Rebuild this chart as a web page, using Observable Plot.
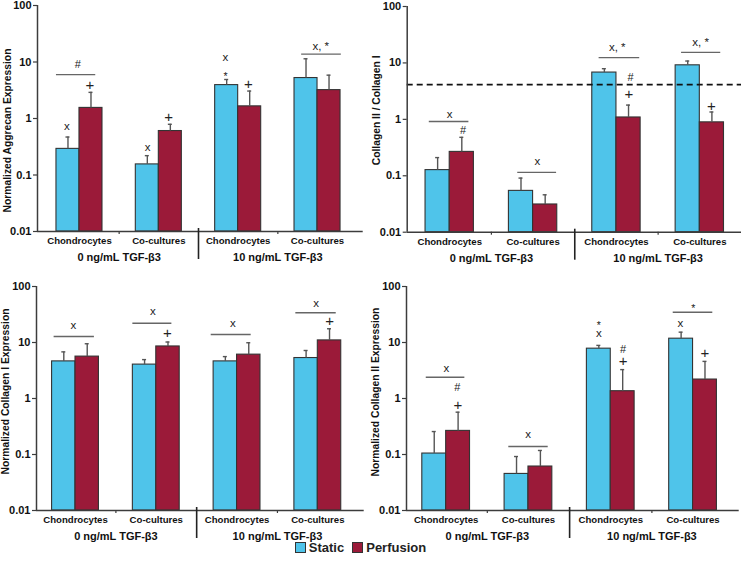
<!DOCTYPE html>
<html><head><meta charset="utf-8">
<script src="https://cdn.jsdelivr.net/npm/d3@7"></script>
<script src="https://cdn.jsdelivr.net/npm/@observablehq/plot@0.6"></script>
<style>
body{margin:0;background:#fff;font-family:"Liberation Sans",Arial,sans-serif;}
#wrap{position:relative;width:741px;height:568px;overflow:hidden;background:#fff;}
.panel{position:absolute;}
#legend{position:absolute;left:-10px;width:741px;top:540px;text-align:center;font:bold 13px "Liberation Sans",Arial,sans-serif;color:#222;}
#legend .item{display:inline-flex;align-items:center;margin:0 4px;}
#legend .sw{display:inline-block;width:9px;height:9px;border:1px solid #333;margin-right:3px;}
</style></head><body><div id="wrap"></div>
<script>
// ---------- data ----------
const categories = ["Chondrocytes", "Co-cultures", "Chondrocytes", "Co-cultures"];
const groups = ["0 ng/mL TGF-β3", "10 ng/mL TGF-β3"];
const seriesNames = ["Static", "Perfusion"];
const yTicks = [0.01, 0.1, 1, 10, 100];
const yTickLabels = ["0.01", "0.1", "1", "10", "100"];

// Panel A: Normalized Aggrecan Expression
const aggStatic = [0.29, 0.154, 3.9, 5.2];
const aggStaticErr = [0.47, 0.22, 4.9, 11.4];
const aggPerf = [1.54, 0.60, 1.64, 3.18];
const aggPerfErr = [2.9, 0.79, 3.06, 5.85];
const aggNotes = [
  {t: "#", x: 0.48, y: 9.1}, {t: "+", x: 0.63, y: 3.9}, {t: "x", x: 0.34, y: 0.72},
  {t: "x", x: 1.36, y: 0.31}, {t: "+", x: 1.625, y: 1.04},
  {t: "x", x: 2.34, y: 12.2}, {t: "*", x: 2.34, y: 6.2}, {t: "+", x: 2.63, y: 4.0},
  {t: "x, *", x: 3.54, y: 19.1}
];
const aggBrackets = [{x1: 0.21, x2: 0.705, y: 5.98}, {x1: 3.30, x2: 3.80, y: 13.8}];

// Panel B: Collagen II / Collagen I
const ratioStatic = [0.126, 0.054, 6.75, 9.07];
const ratioStaticErr = [0.21, 0.091, 7.9, 10.8];
const ratioPerf = [0.265, 0.031, 1.08, 0.885];
const ratioPerfErr = [0.48, 0.046, 1.79, 1.35];
const ratioReference = [4.14];
const ratioNotes = [
  {t: "x", x: 0.50, y: 1.24}, {t: "#", x: 0.66, y: 0.64},
  {t: "x", x: 1.55, y: 0.18},
  {t: "x, *", x: 2.51, y: 19.1}, {t: "#", x: 2.67, y: 5.5}, {t: "+", x: 2.65, y: 2.79},
  {t: "x, *", x: 3.51, y: 22.8}, {t: "+", x: 3.64, y: 1.73}
];
const ratioBrackets = [
  {x1: 0.255, x2: 0.73, y: 0.915}, {x1: 1.316, x2: 1.782, y: 0.115},
  {x1: 2.292, x2: 2.779, y: 12.4}, {x1: 3.281, x2: 3.751, y: 15.4}
];

// Panel C: Normalized Collagen I Expression
const col1Static = [4.6, 4.03, 4.6, 5.28];
const col1StaticErr = [6.8, 4.95, 5.6, 7.2];
const col1Perf = [5.6, 8.5, 6.07, 10.9];
const col1PerfErr = [9.5, 10.2, 9.9, 17.6];
const col1Notes = [
  {t: "x", x: 0.474, y: 20.1}, {t: "x", x: 1.458, y: 35.8}, {t: "+", x: 1.638, y: 14.7},
  {t: "x", x: 2.448, y: 22.1}, {t: "x", x: 3.48, y: 50.4}, {t: "+", x: 3.645, y: 24.0}
];
const col1Brackets = [
  {x1: 0.235, x2: 0.734, y: 12.8}, {x1: 1.21, x2: 1.693, y: 22.1},
  {x1: 2.18, x2: 2.675, y: 13.9}, {x1: 3.228, x2: 3.728, y: 33.9}
];

// Panel D: Normalized Collagen II Expression
const col2Static = [0.104, 0.045, 7.76, 11.7];
const col2StaticErr = [0.257, 0.092, 8.88, 15.3];
const col2Perf = [0.264, 0.061, 1.35, 2.18];
const col2PerfErr = [0.57, 0.118, 3.28, 4.6];
const col2Notes = [
  {t: "x", x: 0.504, y: 3.39}, {t: "#", x: 0.634, y: 1.59}, {t: "+", x: 0.642, y: 0.77},
  {t: "x", x: 1.497, y: 0.225},
  {t: "*", x: 2.355, y: 23.1}, {t: "x", x: 2.355, y: 14.7}, {t: "#", x: 2.651, y: 7.4}, {t: "+", x: 2.651, y: 4.6},
  {t: "x", x: 3.347, y: 22.1}, {t: "*", x: 3.502, y: 45.8}, {t: "+", x: 3.643, y: 6.4}
];
const col2Brackets = [
  {x1: 0.258, x2: 0.727, y: 2.4}, {x1: 1.261, x2: 1.74, y: 0.139}, {x1: 3.259, x2: 3.74, y: 34.7}
];

// ---------- drawing ----------
const BAR = 0.29;
const COLORS = ["#4FC4EA", "#9B1A39"];
const AX = "#3c3c3c";
const FONT = "'Liberation Sans', Arial, Helvetica, sans-serif";

function rowsOf(stat, statErr, perf, perfErr) {
  return categories.flatMap((c, i) => [
    {series: seriesNames[0], v: stat[i], err: statErr[i], x1: i + 0.5 - BAR, x2: i + 0.5},
    {series: seriesNames[1], v: perf[i], err: perfErr[i], x1: i + 0.5, x2: i + 0.5 + BAR}
  ]).map(d => ({...d, xc: (d.x1 + d.x2) / 2}));
}

function panel(cfg) {
  const rows = rowsOf(cfg.stat, cfg.statErr, cfg.perf, cfg.perfErr);
  const marks = [
    Plot.rect(rows, {x1: "x1", x2: "x2", y1: 0.01, y2: "v", fill: "series", stroke: "#333", strokeWidth: 1.1}),
    Plot.ruleX(rows, {x: "xc", y1: "v", y2: "err", stroke: "#555", strokeWidth: 1.4}),
    Plot.ruleY(rows, {x1: "xc", x2: "xc", y: "err", insetLeft: -2, insetRight: -2, stroke: "#555", strokeWidth: 1.4}),
    Plot.ruleY(cfg.brackets, {x1: "x1", x2: "x2", y: "y", stroke: "#666", strokeWidth: 1.4}),
    Plot.text(cfg.notes.filter(d => d.t === "+"), {x: "x", y: "y", text: "t", fontSize: 15, fill: "#222"}),
    Plot.text(cfg.notes.filter(d => d.t === "*"), {x: "x", y: "y", text: "t", fontSize: 10.5, dy: 3, fill: "#222"}),
    Plot.text(cfg.notes.filter(d => d.t === "#"), {x: "x", y: "y", text: "t", fontSize: 11, fill: "#222"}),
    Plot.text(cfg.notes.filter(d => d.t !== "+" && d.t !== "*" && d.t !== "#"), {x: "x", y: "y", text: "t", fontSize: 11.5, fill: "#222"}),
    // axes
    Plot.ruleX([cfg.xDomain[0]], {y1: yTicks[0], y2: yTicks[yTicks.length - 1], stroke: AX, strokeWidth: 1.5}),
    Plot.ruleY([yTicks[0]], {stroke: AX, strokeWidth: 1.5, insetRight: -cfg.axisExtra}),
    Plot.ruleX([1, 3], {y1: yTicks[0], y2: yTicks[0], insetTop: 0, insetBottom: -3, stroke: AX, strokeWidth: 1.2}),
    Plot.ruleX([2], {y1: yTicks[0], y2: yTicks[0], insetTop: -3, insetBottom: -28, stroke: "#222", strokeWidth: 1.6}),
    Plot.axisY({ticks: yTicks, tickFormat: d => yTickLabels[yTicks.indexOf(d)], tickSize: 4, tickPadding: 2,
      fontSize: 11, fontWeight: "bold", label: null, stroke: AX, strokeWidth: 1.2}),
    Plot.axisX({ticks: categories.map((c, i) => i + 0.5), tickFormat: d => categories[Math.floor(d)],
      tickSize: 0, tickPadding: 6, fontSize: 9.6, fontWeight: "bold", label: null}),
    Plot.axisX({ticks: groups.map((g, i) => 2 * i + 1), tickFormat: d => groups[(d - 1) / 2],
      tickSize: 0, tickPadding: 22, fontSize: 11, fontWeight: "bold", label: null}),
    Plot.text([cfg.title], {frameAnchor: "left", textAnchor: "middle", lineAnchor: "middle", rotate: -90,
      dx: cfg.titleDx, dy: cfg.titleDy, fontSize: 10.3, fontWeight: "bold", fill: "#111"})
  ];
  if (cfg.ref) marks.splice(4, 0, Plot.ruleY(cfg.ref, {stroke: "#111", strokeWidth: 1.8, strokeDasharray: "6,4"}));
  return Plot.plot({
    width: cfg.width, height: 270,
    marginLeft: cfg.ml, marginRight: cfg.mr, marginTop: cfg.mt, marginBottom: 270 - cfg.bottom,
    x: {type: "linear", domain: cfg.xDomain},
    y: {type: "log", domain: [yTicks[0], yTicks[yTicks.length - 1]]},
    color: {domain: seriesNames, range: COLORS},
    style: {fontFamily: FONT, background: "transparent", overflow: "visible", color: "#111"},
    marks
  });
}

const wrap = document.getElementById("wrap");
function place(node, left, top) {
  const d = document.createElement("div");
  d.className = "panel";
  d.style.left = left + "px";
  d.style.top = top + "px";
  d.appendChild(node);
  wrap.appendChild(d);
}

place(panel({title: "Normalized Aggrecan Expression", stat: aggStatic, statErr: aggStaticErr, perf: aggPerf, perfErr: aggPerfErr,
  notes: aggNotes, brackets: aggBrackets, width: 370, ml: 37, mr: 13.3, mt: 5, bottom: 231, xDomain: [-0.029, 4],
  titleDx: -29.5, titleDy: 12, axisExtra: 6}), 0, 0);
place(panel({title: "Collagen II / Collagen I", stat: ratioStatic, statErr: ratioStaticErr, perf: ratioPerf, perfErr: ratioPerfErr,
  notes: ratioNotes, brackets: ratioBrackets, ref: ratioReference, width: 371, ml: 36.7, mr: 0, mt: 6, bottom: 231.7, xDomain: [-0.01, 4],
  titleDx: -30.5, titleDy: -9, axisExtra: 0}), 370, 0);
place(panel({title: "Normalized Collagen I Expression", stat: col1Static, statErr: col1StaticErr, perf: col1Perf, perfErr: col1PerfErr,
  notes: col1Notes, brackets: col1Brackets, width: 370, ml: 36, mr: 12.3, mt: 6, bottom: 230, xDomain: [0.017, 4],
  titleDx: -31, titleDy: -7, axisExtra: 6}), 0, 280);
place(panel({title: "Normalized Collagen II Expression", stat: col2Static, statErr: col2StaticErr, perf: col2Perf, perfErr: col2PerfErr,
  notes: col2Notes, brackets: col2Brackets, width: 371, ml: 36, mr: 7.3, mt: 6, bottom: 230, xDomain: [0.018, 4],
  titleDx: -30.3, titleDy: -6.5, axisExtra: 5}), 370, 280);

// legend
const leg = document.createElement("div");
leg.id = "legend";
seriesNames.forEach((s, i) => {
  const it = document.createElement("span");
  it.className = "item";
  const sw = document.createElement("span");
  sw.className = "sw";
  sw.style.background = COLORS[i];
  it.appendChild(sw);
  it.appendChild(document.createTextNode(s));
  leg.appendChild(it);
});
wrap.appendChild(leg);
</script>
</body></html>
